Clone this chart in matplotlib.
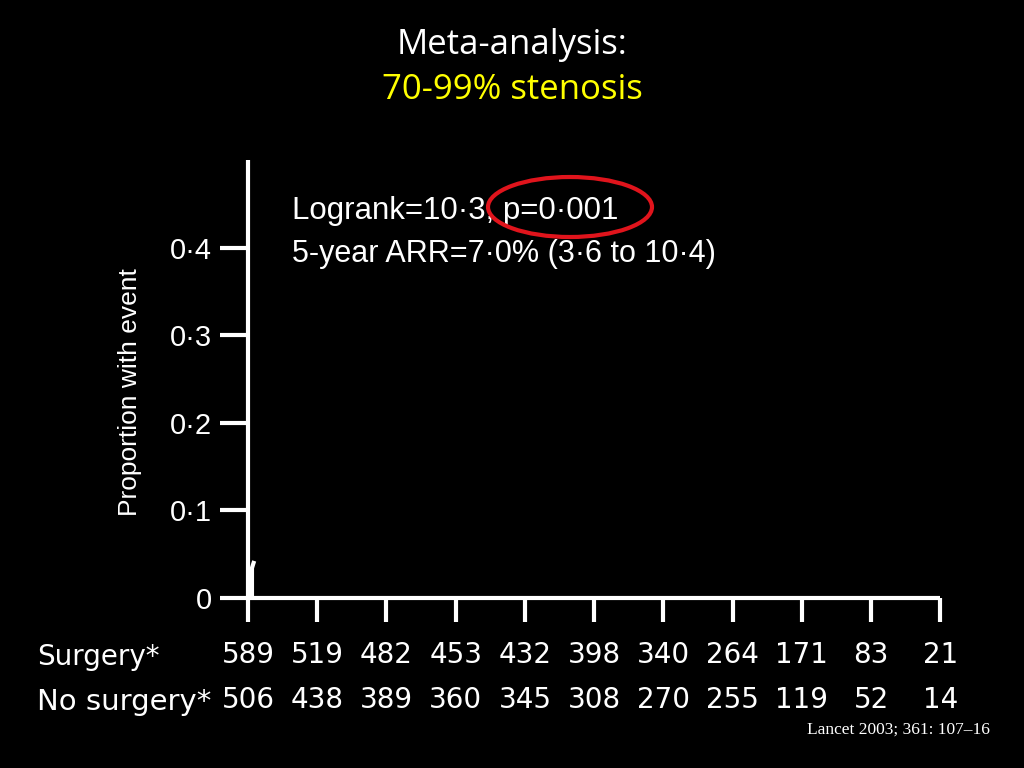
import matplotlib.pyplot as plt
from matplotlib.patches import Ellipse

# data
years = list(range(11))
surgery_at_risk = [589, 519, 482, 453, 432, 398, 340, 264, 171, 83, 21]
no_surgery_at_risk = [506, 438, 389, 360, 345, 308, 270, 255, 119, 52, 14]
y_ticks = [0, 0.1, 0.2, 0.3, 0.4]
y_tick_labels = ["0", "0\u00b71", "0\u00b72", "0\u00b73", "0\u00b74"]
# only the very start of the curves is visible in the picture
curve_t = [0, 0.04, 0.08]
curve_p = [0, 0.03, 0.04]

fig = plt.figure(figsize=(10.24, 7.68), dpi=100, facecolor="black")
ax = fig.add_axes([0.2422, 0.2214, 0.676, 0.5703])
ax.set_facecolor("black")

ax.fill_between(curve_t, 0, curve_p, color="white", lw=0)
ax.plot(curve_t, curve_p, color="white", lw=3)

ax.set_xlim(0, 10)
ax.set_ylim(0, 0.5)
for s in ["top", "right"]:
    ax.spines[s].set_visible(False)
for s in ["left", "bottom"]:
    ax.spines[s].set_color("white")
    ax.spines[s].set_linewidth(3)
    ax.spines[s].set_capstyle("butt")

ax.set_xticks(years)
ax.set_xticklabels([])
ax.tick_params(axis="x", colors="white", length=17, width=3, direction="out")
ax.set_yticks(y_ticks)
ax.set_yticklabels(y_tick_labels, fontsize=21, color="white", family="Liberation Sans")
ax.tick_params(axis="y", colors="white", length=20, width=3, direction="out", pad=6)

ax.set_ylabel("Proportion with event", fontsize=19, color="white",
              family="Liberation Sans")
ax.yaxis.set_label_coords(-0.153, 0.47)

# at-risk numbers
for x, n in zip(years, surgery_at_risk):
    ax.text(x, -0.065, str(n), ha="center", va="center", fontsize=20,
            color="white", family="DejaVu Sans", clip_on=False)
for x, n in zip(years, no_surgery_at_risk):
    ax.text(x, -0.116, str(n), ha="center", va="center", fontsize=20,
            color="white", family="DejaVu Sans", clip_on=False)
fig.text(37 / 1024, 1 - 657 / 768, "Surgery*", ha="left", va="center",
         fontsize=20, color="white", family="DejaVu Sans")
fig.text(37 / 1024, 1 - 702 / 768, "No surgery*", ha="left", va="center",
         fontsize=21, color="white", family="DejaVu Sans")

ax.text(0.64, 0.4416, "Logrank=10\u00b73, p=0\u00b7001", fontsize=22.5,
        color="white", family="Liberation Sans", va="center")
ax.text(0.64, 0.3926, "5-year ARR=7\u00b70% (3\u00b76 to 10\u00b74)", fontsize=22,
        color="white", family="Liberation Sans", va="center")
ell = Ellipse((570 / 1024, 1 - 207 / 768), 164 / 1024, 60 / 768,
              transform=fig.transFigure, fill=False, edgecolor="#e0141c", lw=3)
fig.patches.append(ell)

fig.text(0.5, 1 - 45 / 768, "Meta-analysis:", ha="center", va="center",
         fontsize=25, color="white", family="Open Sans")
fig.text(0.5, 1 - 90 / 768, "70-99% stenosis", ha="center", va="center",
         fontsize=25, color="#ffff00", family="Open Sans")
fig.text(990 / 1024, 1 - 730 / 768, "Lancet 2003; 361: 107\u201316", ha="right",
         va="center", fontsize=12.5, color="white", family="Liberation Serif")

fig.savefig("out.png", dpi=100, facecolor="black")
